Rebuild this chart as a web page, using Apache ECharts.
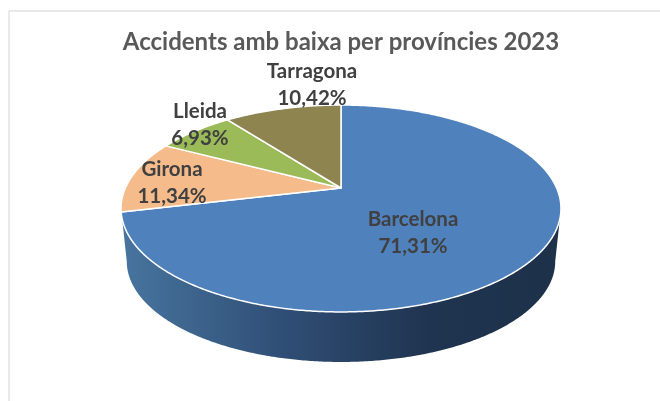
<!DOCTYPE html>
<html>
<head>
  <meta charset="UTF-8">
  <title>Accidents amb baixa per províncies 2023</title>
  <style>
    html, body { margin: 0; padding: 0; background: #fff; }
    #main { width: 660px; height: 401px; }
  </style>
  <script src="https://cdn.jsdelivr.net/npm/echarts@6/dist/echarts.min.js"></script>
</head>
<body>
  <div id="main"></div>
  <script>
    var provinces = ['Barcelona', 'Girona', 'Lleida', 'Tarragona'];
    var shares = [71.31, 11.34, 6.93, 10.42];
    var sliceColors = ['#4f81bd', '#f6bb8a', '#9bbb59', '#8e8450'];
    var titleText = 'Accidents amb baixa per províncies 2023';

    // where the text block of each slice sits
    var labelCenters = [[413, 233], [172, 183], [200, 125], [312, 85]];

    // tilted disc, drawn in perspective: points on a unit circle go through a projection
    var disc = { cx: 341, cy: 188, a: 215.6, b: 99.4, k: 0.198 };
    var lowerDisc = { cx: 341, cy: 241.4, a: 210, b: 96.7, k: 0.198 };

    // angle is in degrees, clockwise from the top
    function project(d, angle) {
      var r = angle * Math.PI / 180;
      var u = Math.sin(r);
      var v = -Math.cos(r);
      var w = 1 - d.k * v;
      return [d.cx + d.a * u / w, d.cy + d.b * v / w];
    }

    function arc(d, from, to) {
      var pts = [];
      var steps = Math.max(2, Math.ceil(Math.abs(to - from) * 2));
      for (var i = 0; i <= steps; i++) {
        pts.push(project(d, from + (to - from) * i / steps));
      }
      return pts;
    }

    var total = shares.reduce(function (s, v) { return s + v; }, 0);

    function renderSlice(params, api) {
      var i = params.dataIndex;
      var before = 0;
      for (var j = 0; j < i; j++) before += shares[j];
      var start = before / total * 360;
      var end = (before + api.value(0)) / total * 360;
      var children = [];

      // the wall only shows the first slice, it covers all the front
      if (i === 0) {
        var edge = Math.acos(-disc.k) * 180 / Math.PI;
        var wall = arc(disc, edge, 360 - edge).concat(arc(lowerDisc, 360 - edge, edge));
        children.push({
          type: 'polygon',
          shape: { points: wall },
          style: {
            fill: {
              type: 'linear', x: 0, y: 0, x2: 1, y2: 0,
              colorStops: [
                { offset: 0, color: '#47759f' },
                { offset: 0.38, color: '#2f4d74' },
                { offset: 0.7, color: '#1f3450' },
                { offset: 1, color: '#1d3149' }
              ]
            }
          }
        });
      }

      children.push({
        type: 'polygon',
        shape: { points: [[disc.cx, disc.cy]].concat(arc(disc, start, end)) },
        style: { fill: sliceColors[i], stroke: '#fff', lineWidth: 1.5, lineJoin: 'round' }
      });

      return { type: 'group', children: children };
    }

    // labels go last so no slice paints over them
    function renderLabel(params, api) {
      var i = params.dataIndex;
      return {
        type: 'text',
        style: {
          x: labelCenters[i][0],
          y: labelCenters[i][1],
          text: provinces[i] + '\n' + api.value(0).toFixed(2).replace('.', ',') + '%',
          fill: '#404040',
          font: 'bold 20.5px Lato',
          lineHeight: 27,
          align: 'center',
          verticalAlign: 'middle'
        }
      };
    }

    var myChart = echarts.init(document.getElementById('main'));
    myChart.setOption({
      animation: false,
      backgroundColor: '#fff',
      title: {
        text: titleText,
        left: 336,
        top: 25,
        textAlign: 'center',
        textStyle: { color: '#595959', fontFamily: 'Lato', fontWeight: 'bold', fontSize: 24 }
      },
      graphic: [
        { type: 'line', shape: { x1: 9, y1: 11, x2: 660, y2: 11 }, style: { stroke: '#e2e2e2', lineWidth: 1.5 } },
        { type: 'line', shape: { x1: 9, y1: 11, x2: 9, y2: 401 }, style: { stroke: '#e2e2e2', lineWidth: 1.5 } }
      ],
      series: [
        { type: 'custom', coordinateSystem: 'none', renderItem: renderSlice, data: shares, z: 2, silent: true },
        { type: 'custom', coordinateSystem: 'none', renderItem: renderLabel, data: shares, z: 3, silent: true }
      ]
    });
  </script>
</body>
</html>
